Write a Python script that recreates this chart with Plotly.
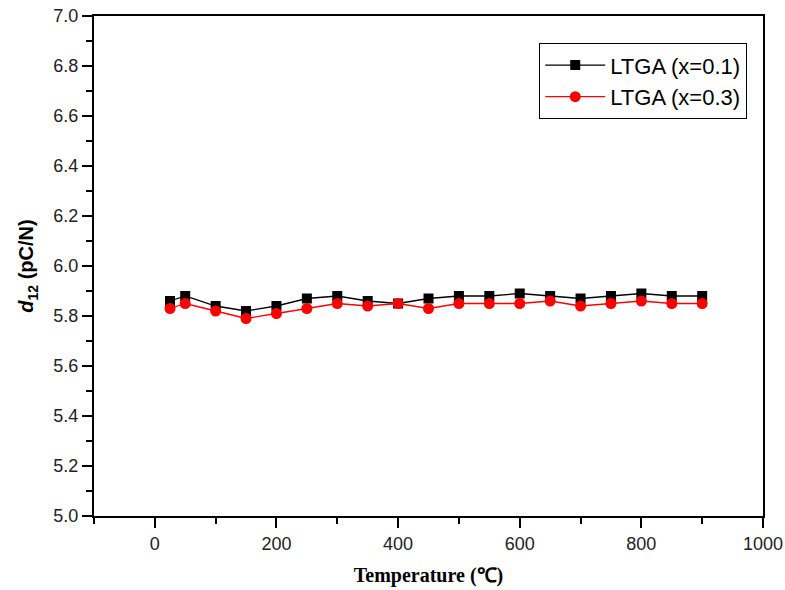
import plotly.graph_objects as go

temperature = [25, 50, 100, 150, 200, 250, 300, 350, 400, 450, 500, 550, 600, 650, 700, 750, 800, 850, 900]
d12_x01 = [5.86, 5.88, 5.84, 5.82, 5.84, 5.87, 5.88, 5.86, 5.85, 5.87, 5.88, 5.88, 5.89, 5.88, 5.87, 5.88, 5.89, 5.88, 5.88]
d12_x03 = [5.83, 5.85, 5.82, 5.79, 5.81, 5.83, 5.85, 5.84, 5.85, 5.83, 5.85, 5.85, 5.85, 5.86, 5.84, 5.85, 5.86, 5.85, 5.85]
series_names = ["LTGA (x=0.1)", "LTGA (x=0.3)"]
x_tickvals = [0, 200, 400, 600, 800, 1000]

fig = go.Figure()
fig.add_trace(go.Scatter(
    x=temperature, y=d12_x01, mode="lines+markers", name=series_names[0],
    line=dict(color="black", width=1.3),
    marker=dict(symbol="square", size=10, color="black"),
))
fig.add_trace(go.Scatter(
    x=temperature, y=d12_x03, mode="lines+markers", name=series_names[1],
    line=dict(color="red", width=1.3),
    marker=dict(symbol="circle", size=11, color="red"),
))

axis_common = dict(
    showline=True, linecolor="black", linewidth=2, mirror=True,
    ticks="outside", ticklen=10, tickwidth=2, tickcolor="black",
    showgrid=False, zeroline=False, automargin=False,
    ticklabeloverflow="allow",
    tickfont=dict(family="Liberation Sans, Arial", size=18, color="#222"),
)

fig.update_xaxes(
    range=[-100, 1000], tickmode="array", tickvals=x_tickvals,
    minor=dict(ticks="outside", ticklen=6, tickwidth=2, tickcolor="black", dtick=100, tick0=0),
    title=dict(text="<b>Temperature (℃)</b>", font=dict(family="Liberation Serif, Times New Roman", size=20, color="black"), standoff=15),
    **axis_common,
)
fig.update_yaxes(
    range=[5.0, 7.0], dtick=0.2, tickformat=".1f",
    minor=dict(ticks="outside", ticklen=6, tickwidth=2, tickcolor="black", dtick=0.1),
    title=dict(text="<b><i>d</i><sub>12</sub> (pC/N)</b>", font=dict(family="Liberation Sans, Arial", size=20, color="black"), standoff=14),
    **axis_common,
)

fig.update_layout(
    width=785, height=590,
    margin=dict(l=94, r=22, t=16, b=74),
    plot_bgcolor="white", paper_bgcolor="white",
    legend=dict(
        x=0.976, y=0.946, xanchor="right", yanchor="top",
        bordercolor="black", borderwidth=1.3, bgcolor="white",
        font=dict(family="Liberation Sans, Arial", size=22, color="black"),
        tracegroupgap=0, itemwidth=60,
    ),
)

fig.write_html(
    "out.html",
    config={"displayModeBar": False},
    post_script="document.body.style.margin='0';document.body.style.overflow='hidden';",
)
